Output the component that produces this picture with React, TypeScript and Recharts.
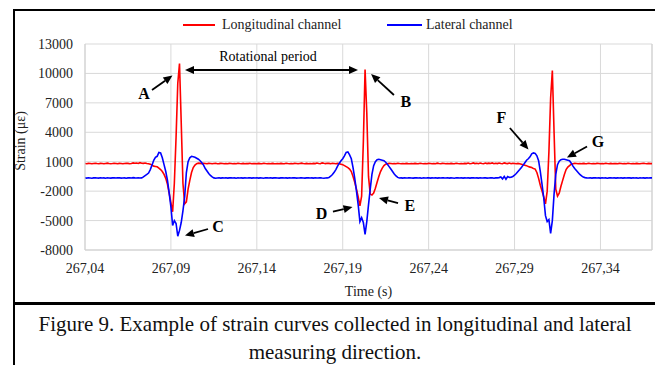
import React from 'react';
import { LineChart, Line, XAxis, YAxis, CartesianGrid, ReferenceLine, ReferenceDot } from 'recharts';

// Sampling of the record (1 kHz)
const START_TIME = 267.04;
const SAMPLE_PERIOD = 0.001;

const xTicks = [267.04, 267.09, 267.14, 267.19, 267.24, 267.29, 267.34];
const yTicks = [-8000, -5000, -2000, 1000, 4000, 7000, 10000, 13000];

// Longitudinal channel strain (µε), one value per sample
const longitudinal = [
  820, 800, 830, 810, 790, 820, 840, 810, 800, 830,
  810, 790, 820, 850, 820, 800, 810, 840, 820, 800,
  830, 810, 790, 820, 850, 830, 800, 820, 880, 840,
  860, 820, 900, 850, 830, 870, 820, 800, 750, 650,
  550, 520, 480, 350, 200, 0, -300, -700, -1300, -2200,
  -3200, -4100, -1200, 3500, 9000, 11000, 5000, -1200, -3300, -3100,
  -1800, -900, -100, 400, 650, 800, 850, 830, 810, 840,
  820, 800, 830, 810, 790, 820, 840, 800, 810, 830,
  810, 790, 820, 800, 830, 810, 790, 820, 800, 840,
  810, 800, 830, 790, 820, 810, 840, 800, 820, 810,
  790, 830, 810, 800, 840, 810, 790, 820, 800, 830,
  810, 800, 820, 790, 830, 810, 800, 840, 810, 790,
  820, 800, 830, 810, 790, 820, 850, 810, 800, 830,
  800, 820, 790, 830, 810, 860, 820, 800, 880, 840,
  810, 850, 830, 800, 840, 820, 800, 830, 800, 750,
  700, 600, 500, 400, 250, 0, -500, -1100, -1800, -2600,
  -3500, -2500, 3000, 10400, 6000, -500, -2300, -2400, -2200, -1700,
  -1100, -500, 0, 350, 600, 750, 800, 830, 810, 790,
  820, 800, 840, 810, 790, 820, 800, 830, 810, 800,
  820, 790, 830, 810, 800, 840, 810, 790, 820, 800,
  830, 810, 790, 820, 800, 850, 810, 800, 830, 810,
  790, 820, 800, 830, 810, 800, 840, 810, 790, 820,
  800, 830, 810, 860, 800, 820, 880, 810, 840, 800,
  860, 820, 800, 870, 810, 850, 820, 880, 800, 840,
  810, 870, 820, 800, 880, 830, 810, 860, 800, 840,
  820, 800, 830, 800, 750, 700, 650, 600, 500, 450,
  400, 300, 250, -100, -700, -1400, -2000, -2600, -3300, -2000,
  2000, 7500, 10300, 4000, -1800, -2500, -2200, -1500, -900, -300,
  200, 450, 600, 750, 800, 830, 810, 790, 820, 800,
  830, 810, 800, 840, 810, 790, 820, 800, 830, 810,
  790, 820, 800, 840, 810, 800, 830, 790, 820, 810,
  800, 830, 810, 790, 820, 800, 840, 810, 800, 820,
  790, 830, 810, 800, 820, 840, 810, 800, 830, 810, 800,
];

// Lateral channel strain (µε), one value per sample
const lateral = [
  -650, -670, -640, -660, -680, -650, -630, -660, -670, -640,
  -660, -650, -680, -640, -660, -670, -650, -630, -660, -650,
  -640, -670, -660, -650, -680, -650, -640, -660, -620, -650,
  -660, -640, -660, -650, -550, -420, -300, -150, 200, 650,
  1150, 1450, 1550, 1950, 1900, 1400, 700, 0, -900, -2200,
  -3600, -5500, -5000, -5300, -6600, -6000, -5200, -4000, -2600, -100,
  1000, 1400, 1550, 1500, 1450, 1350, 1250, 1100, 900, 650,
  300, 50, -200, -400, -550, -650, -680, -660, -640, -670,
  -650, -660, -640, -670, -650, -630, -660, -650, -680, -640,
  -660, -650, -670, -640, -660, -650, -630, -670, -650, -660,
  -640, -670, -650, -660, -680, -640, -650, -660, -630, -670,
  -650, -640, -660, -670, -650, -630, -660, -650, -670, -640,
  -660, -650, -640, -670, -660, -650, -630, -660, -670, -650,
  -640, -660, -650, -670, -640, -660, -650, -630, -660, -680,
  -660, -650, -600, -480, -300, -80, 200, 550, 850, 1100,
  1300, 1600, 1950, 2000, 1700, 1300, 400, -700, -2000, -3400,
  -5100, -4700, -5200, -6400, -5100, -3400, -1800, -300, 600, 1000,
  1200, 1250, 1200, 1150, 1100, 950, 750, 500, 250, 0,
  -250, -450, -600, -660, -650, -670, -640, -660, -650, -630,
  -660, -670, -650, -640, -660, -650, -680, -640, -660, -650,
  -630, -670, -650, -660, -640, -670, -650, -660, -630, -650,
  -660, -640, -670, -650, -660, -680, -640, -650, -660, -630,
  -670, -650, -660, -640, -670, -650, -630, -660, -650, -670,
  -640, -660, -650, -630, -670, -660, -650, -640, -680, -650,
  -650, -620, -550, -750, -500, -780, -520, -600, -580, -500,
  -380, -200, 0, 200, 420, 650, 900, 1150, 1300, 1500,
  1800, 1900, 1850, 1600, 1100, 0, -1300, -2700, -4500, -5100,
  -4900, -6300, -5000, -2300, -300, 700, 1050, 1200, 1250, 1250,
  1200, 1150, 1100, 850, 550, 300, 100, -100, -300, -450,
  -550, -620, -650, -660, -640, -670, -650, -630, -660, -650,
  -670, -640, -660, -650, -680, -650, -640, -660, -630, -670,
  -650, -660, -640, -670, -650, -660, -630, -650, -670, -640,
  -660, -650, -680, -640, -660, -650, -670, -640, -660, -650, -650,
];

// Annotation letters: text position and arrow (tail -> head) in data coordinates
const annLabels = ['A', 'B', 'C', 'D', 'E', 'F', 'G'];
const annText = [
  [267.0743, 8000], [267.2268, 7140], [267.1174, -5650], [267.1776, -4280],
  [267.2291, -3510], [267.2824, 5460], [267.3386, 3060],
];
const annTail = [
  [267.0790, 8310], [267.2198, 7800], [267.1116, -5860], [267.1843, -4080],
  [267.2222, -3210], [267.2873, 4440], [267.3322, 2550],
];
const annHead = [
  [267.0909, 9790], [267.2065, 9940], [267.0982, -6520], [267.1957, -3620],
  [267.2111, -2700], [267.2981, 2250], [267.3205, 1430],
];
const periodStart = 267.0982;
const periodEnd = 267.1989;
const periodLevel = 10350;
const periodTextPos = [267.1465, 11700];

const data = longitudinal.map((v, i) => ({
  t: +(START_TIME + i * SAMPLE_PERIOD).toFixed(3),
  longitudinal: v,
  lateral: lateral[i],
}));

const FONT = '"Liberation Serif", "Times New Roman", serif';

function headPoints(xt: number, yt: number, xh: number, yh: number) {
  const ang = Math.atan2(yh - yt, xh - xt);
  const L = 9;
  const W = 4;
  const bx = xh - L * Math.cos(ang);
  const by = yh - L * Math.sin(ang);
  const px = -Math.sin(ang) * W;
  const py = Math.cos(ang) * W;
  return {
    pts: `${xh},${yh} ${bx + px},${by + py} ${bx - px},${by - py}`,
    bx,
    by,
  };
}

const arrowShape = (double: boolean) => (p: any) => {
  const { x1, y1, x2, y2 } = p;
  if ([x1, y1, x2, y2].some((v) => typeof v !== 'number' || isNaN(v))) return <g />;
  const h2 = headPoints(x1, y1, x2, y2);
  if (double) {
    const h1 = headPoints(x2, y2, x1, y1);
    return (
      <g>
        <line x1={h1.bx} y1={h1.by} x2={h2.bx} y2={h2.by} stroke="#000" strokeWidth={1.8} />
        <polygon points={h1.pts} fill="#000" />
        <polygon points={h2.pts} fill="#000" />
      </g>
    );
  }
  return (
    <g>
      <line x1={x1} y1={y1} x2={h2.bx} y2={h2.by} stroke="#000" strokeWidth={1.8} />
      <polygon points={h2.pts} fill="#000" />
    </g>
  );
};

const textShape = (label: string, size: number, bold: boolean) => (p: any) => (
  <text
    x={p.cx}
    y={p.cy}
    textAnchor="middle"
    dominantBaseline="central"
    fontFamily={FONT}
    fontSize={size}
    fontWeight={bold ? 'bold' : 'normal'}
    fill="#000"
  >
    {label}
  </text>
);

export default function App() {
  return (
    <div
      style={{
        position: 'absolute',
        left: 0,
        top: 0,
        width: 655,
        height: 365,
        background: '#fff',
        overflow: 'hidden',
        fontFamily: FONT,
      }}
    >
      {/* frame */}
      <div style={{ position: 'absolute', left: 13, top: 9, width: 642, height: 2, background: '#000' }} />
      <div style={{ position: 'absolute', left: 13, top: 9, width: 2, height: 356, background: '#000' }} />
      <div style={{ position: 'absolute', left: 13, top: 302, width: 642, height: 3, background: '#000' }} />

      {/* legend */}
      <div style={{ position: 'absolute', left: 183, top: 24, width: 32, height: 2, background: '#ff0000' }} />
      <div style={{ position: 'absolute', left: 222, top: 16, fontSize: 14, lineHeight: '18px', color: '#222' }}>
        Longitudinal channel
      </div>
      <div style={{ position: 'absolute', left: 387, top: 24, width: 35, height: 2, background: '#0000ff' }} />
      <div style={{ position: 'absolute', left: 426, top: 16, fontSize: 14, lineHeight: '18px', color: '#222' }}>
        Lateral channel
      </div>

      <div style={{ position: 'absolute', left: 0, top: 0 }}>
        <LineChart width={655} height={300} data={data} margin={{ top: 44, right: 3, bottom: 20, left: 15 }}>
          <CartesianGrid stroke="#d9d9d9" strokeWidth={1} />
          <XAxis
            type="number"
            dataKey="t"
            domain={[267.04, 267.37]}
            allowDataOverflow
            ticks={xTicks}
            tickFormatter={(v: number) => v.toFixed(2).replace('.', ',')}
            axisLine={{ stroke: '#d0d0d0' }}
            tickLine={false}
            tickMargin={7}
            height={30}
            tick={{ fontFamily: FONT, fontSize: 14, fill: '#222' }}
            label={{
              content: (lp: any) => {
                const vb = lp.viewBox;
                return (
                  <text
                    x={vb.x + vb.width / 2}
                    y={291}
                    textAnchor="middle"
                    dominantBaseline="central"
                    fontFamily={FONT}
                    fontSize={14}
                    fill="#222"
                  >
                    Time (s)
                  </text>
                );
              },
            }}
          />
          <YAxis
            type="number"
            domain={[-8000, 13000]}
            ticks={yTicks}
            allowDataOverflow
            axisLine={{ stroke: '#d0d0d0' }}
            tickLine={false}
            tickMargin={6}
            width={70}
            tick={{ fontFamily: FONT, fontSize: 14, fill: '#222' }}
            label={{
              content: (lp: any) => {
                const vb = lp.viewBox;
                const cx = vb.x + 5;
                const cy = vb.y + vb.height / 2 - 6;
                return (
                  <text
                    x={cx}
                    y={cy}
                    transform={`rotate(-90, ${cx}, ${cy})`}
                    textAnchor="middle"
                    dominantBaseline="central"
                    fontFamily={FONT}
                    fontSize={14}
                    fill="#222"
                  >
                    Strain (με)
                  </text>
                );
              },
            }}
          />
          <ReferenceLine x={267.37} stroke="#d0d0d0" />
          <Line
            type="linear"
            dataKey="longitudinal"
            stroke="#ff0000"
            strokeWidth={1.6}
            dot={false}
            isAnimationActive={false}
          />
          <Line
            type="linear"
            dataKey="lateral"
            stroke="#0000ff"
            strokeWidth={1.6}
            dot={false}
            isAnimationActive={false}
          />
          <ReferenceLine
            segment={[
              { x: periodStart, y: periodLevel },
              { x: periodEnd, y: periodLevel },
            ]}
            shape={arrowShape(true)}
          />
          <ReferenceDot
            x={periodTextPos[0]}
            y={periodTextPos[1]}
            r={0}
            shape={textShape('Rotational period', 14, false)}
          />
          {annLabels.map((lab, i) => (
            <ReferenceLine
              key={'arr' + lab}
              segment={[
                { x: annTail[i][0], y: annTail[i][1] },
                { x: annHead[i][0], y: annHead[i][1] },
              ]}
              shape={arrowShape(false)}
            />
          ))}
          {annLabels.map((lab, i) => (
            <ReferenceDot
              key={'txt' + lab}
              x={annText[i][0]}
              y={annText[i][1]}
              r={0}
              shape={textShape(lab, 16, true)}
            />
          ))}
        </LineChart>
      </div>

      {/* caption */}
      <div
        style={{
          position: 'absolute',
          left: 15,
          top: 310,
          width: 640,
          textAlign: 'center',
          fontSize: 21,
          lineHeight: '28px',
          color: '#111',
        }}
      >
        Figure 9. Example of strain curves collected in longitudinal and lateral
        <br />
        measuring direction.
      </div>
    </div>
  );
}
